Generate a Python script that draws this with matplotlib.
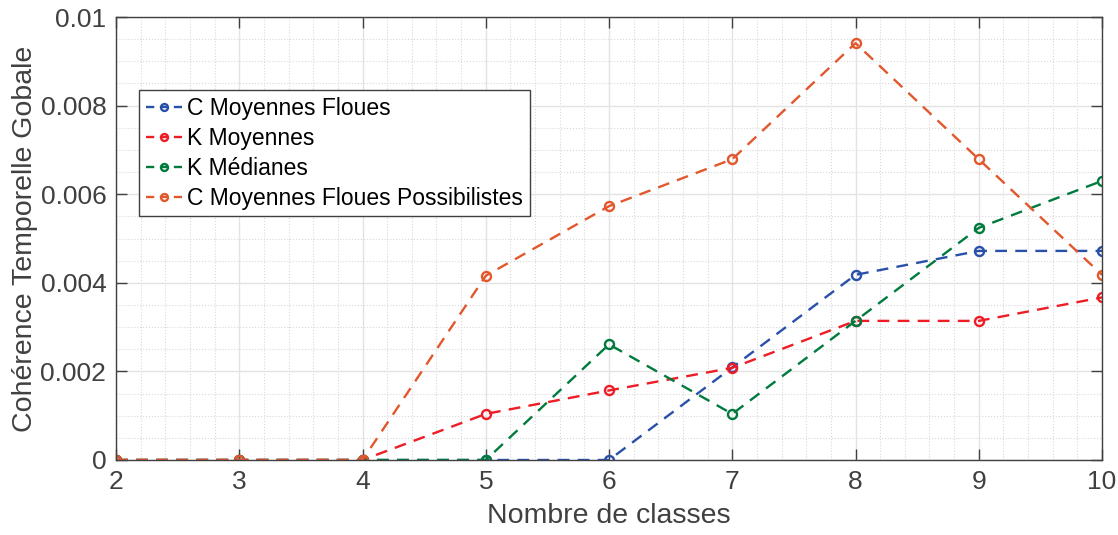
import numpy as np
import matplotlib.pyplot as plt
from matplotlib.ticker import MultipleLocator

plt.rcParams['font.family'] = ['Liberation Sans', 'DejaVu Sans']

# Données
classes = [2, 3, 4, 5, 6, 7, 8, 9, 10]
c_moyennes_floues = [0, 0, 0, 0, 0, 0.00209, 0.00418, 0.00472, 0.00472]
k_moyennes = [0, 0, 0, 0.00104, 0.00157, 0.00208, 0.00314, 0.00314, 0.00367]
k_medianes = [0, 0, 0, 0, 0.00261, 0.00104, 0.00314, 0.00524, 0.00630]
c_moy_possib = [0, 0, 0, 0.00416, 0.00573, 0.00679, 0.00941, 0.00679, 0.00418]

noms = ['C Moyennes Floues', 'K Moyennes', 'K Médianes', 'C Moyennes Floues Possibilistes']
couleurs = ['#2850A8', '#EE1C25', '#007A3D', '#E2572B']
series = [c_moyennes_floues, k_moyennes, k_medianes, c_moy_possib]

fig = plt.figure(figsize=(11.18, 5.35), dpi=100)
ax = fig.add_axes([0.1038, 0.1402, 0.8819, 0.8280])

for s, c, n in zip(series, couleurs, noms):
    ax.plot(classes, s, linestyle=(0, (5, 3.5)), color=c, linewidth=1.7, marker='o',
            markersize=6.5, markerfacecolor='none', markeredgewidth=1.7, label=n)

ax.set_xlim(2, 10)
ax.set_ylim(0, 0.01)
ax.set_xticks(classes)
ax.set_yticks([0, 0.002, 0.004, 0.006, 0.008, 0.01])
ax.set_yticklabels(['0', '0.002', '0.004', '0.006', '0.008', '0.01'])
ax.xaxis.set_minor_locator(MultipleLocator(0.2))
ax.yaxis.set_minor_locator(MultipleLocator(0.0005))

ax.grid(which='major', color='#E3E3E3', linewidth=1.0)
ax.grid(which='minor', color='#D8D8D8', linestyle=':', linewidth=0.8)
ax.set_axisbelow(True)

ax.tick_params(which='both', direction='in', top=True, right=True,
               labelsize=19, labelcolor='#404040', color='#404040')
ax.tick_params(which='major', length=8, width=1, pad=7)
ax.tick_params(which='minor', length=0)
for sp in ax.spines.values():
    sp.set_color('#404040')
    sp.set_linewidth(1)

ax.set_xlabel('Nombre de classes', fontsize=20.5, color='#404040', labelpad=7)
ax.set_ylabel('Cohérence Temporelle Gobale', fontsize=20.5, color='#404040', labelpad=1.5)

leg = ax.legend(loc='upper left', bbox_to_anchor=(0.023, 0.835), fontsize=16.5,
                fancybox=False, edgecolor='#404040', framealpha=1,
                handlelength=1.6, handletextpad=0.2, borderaxespad=0,
                borderpad=0.3, labelspacing=0.3)
leg.get_frame().set_linewidth(1)
for h in leg.get_lines():
    h.set_markersize(5)
    h.set_linestyle((0, (3.5, 2.4)))

fig.savefig('out.png', dpi=100)
